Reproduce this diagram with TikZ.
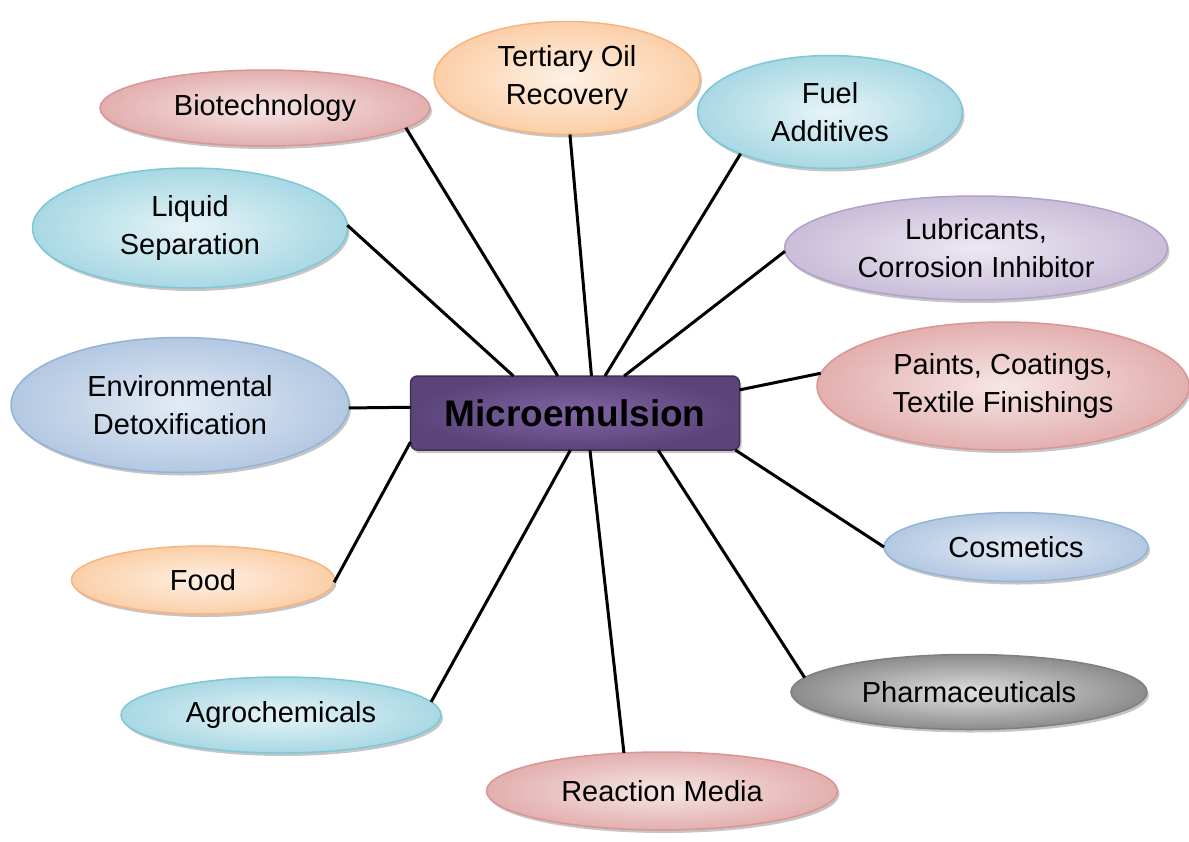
\documentclass[tikz,border=0pt]{standalone}
\usepackage{fontspec}
\setmainfont{Liberation Sans}
\usetikzlibrary{shapes.geometric,shadows}
\definecolor{redE}{HTML}{D99694}
\definecolor{redI}{HTML}{F7E6E6}
\definecolor{redO}{HTML}{E2AFAE}
\definecolor{orgE}{HTML}{F9B47E}
\definecolor{orgI}{HTML}{FEF0E4}
\definecolor{orgO}{HTML}{FBCFA8}
\definecolor{cyaE}{HTML}{7CC8D6}
\definecolor{cyaI}{HTML}{E6F4F7}
\definecolor{cyaO}{HTML}{A8D8E4}
\definecolor{purE}{HTML}{B2A2C7}
\definecolor{purI}{HTML}{EDE8F2}
\definecolor{purO}{HTML}{C9BDD9}
\definecolor{bluE}{HTML}{95B3D7}
\definecolor{bluI}{HTML}{E3EBF5}
\definecolor{bluO}{HTML}{B3C8E2}
\definecolor{graE}{HTML}{7F7F7F}
\definecolor{graI}{HTML}{E0E0E0}
\definecolor{graO}{HTML}{8C8C8C}
\definecolor{cenE}{HTML}{3F3151}
\definecolor{cenI}{HTML}{8265A6}
\definecolor{cenO}{HTML}{5A4478}
\begin{document}
\begin{tikzpicture}[x=1pt,y=-1pt,
  bub/.style={ellipse, inner sep=0pt, outer sep=0pt, align=center,
    font=\fontsize{29}{38}\selectfont, line width=1.5pt,
    drop shadow={shadow xshift=2pt, shadow yshift=-3pt, fill=black!45, opacity=0.5}},
  bubred/.style={bub, draw=redE, inner color=redI, outer color=redO},
  buborg/.style={bub, draw=orgE, inner color=orgI, outer color=orgO},
  bubcya/.style={bub, draw=cyaE, inner color=cyaI, outer color=cyaO},
  bubpur/.style={bub, draw=purE, inner color=purI, outer color=purO},
  bubblu/.style={bub, draw=bluE, inner color=bluI, outer color=bluO},
  bubgra/.style={bub, draw=graE, inner color=graI, outer color=graO},
  center/.style={rectangle, rounded corners=7pt, inner sep=0pt, outer sep=0pt,
    minimum width=329pt, minimum height=74pt, draw=cenE, line width=1.5pt,
    inner color=cenI, outer color=cenO,
    font=\fontsize{37}{44}\selectfont\bfseries,
    drop shadow={shadow xshift=2pt, shadow yshift=-3pt, fill=black!45, opacity=0.5}},
  link/.style={line width=3pt, black}
]
\useasboundingbox (0,0) rectangle (1189,841);

\node[center] (m) at (575,413) {Microemulsion};

\node[bubred, minimum width=330pt, minimum height=76pt] (bio) at (265,108) {Biotechnology};
\node[buborg, minimum width=266pt, minimum height=113pt] (ter) at (567,78) {Tertiary Oil\\Recovery};
\node[bubcya, minimum width=265pt, minimum height=113pt] (fuel) at (830,112) {Fuel\\Additives};
\node[bubpur, minimum width=383pt, minimum height=104pt] (lub) at (976,248) {Lubricants,\\Corrosion Inhibitor};
\node[bubred, minimum width=372pt, minimum height=128pt] (pai) at (1003,386) {Paints, Coatings,\\Textile Finishings};
\node[bubblu, minimum width=264pt, minimum height=69pt] (cos) at (1016,547) {Cosmetics};
\node[bubgra, minimum width=356pt, minimum height=75pt] (pha) at (969,692) {Pharmaceuticals};
\node[bubred, minimum width=351pt, minimum height=78pt] (rea) at (662,791) {Reaction Media};
\node[bubcya, minimum width=320pt, minimum height=76pt] (agr) at (281,715) {Agrochemicals};
\node[buborg, minimum width=263pt, minimum height=68pt] (food) at (203,580) {Food};
\node[bubblu, minimum width=338pt, minimum height=135pt] (env) at (180,405) {Environmental\\Detoxification};
\node[bubcya, minimum width=315pt, minimum height=120pt] (liq) at (190,228) {Liquid\\Separation};

\draw[link] (bio.-8) -- (m.115.9);
\draw[link] (ter.-87) -- (m.66.6);
\draw[link] (fuel.205.6) -- (m.51);
\draw[link] (lub.181.2) -- (m.37.6);
\draw[link] (pai.176.6) -- (m.8.6);
\draw[link] (cos.180) -- (m.-13);
\draw[link] (pha.175.2) -- (m.-24.8);
\draw[link] (rea.135.7) -- (m.-68);
\draw[link] (agr.5.8) -- (m.-97.7);
\draw[link] (food.-1) -- (m.190.3);
\draw[link] (env.-1) -- (m.178.3);
\draw[link] (liq.1.5) -- (m.149.2);
\end{tikzpicture}
\end{document}
